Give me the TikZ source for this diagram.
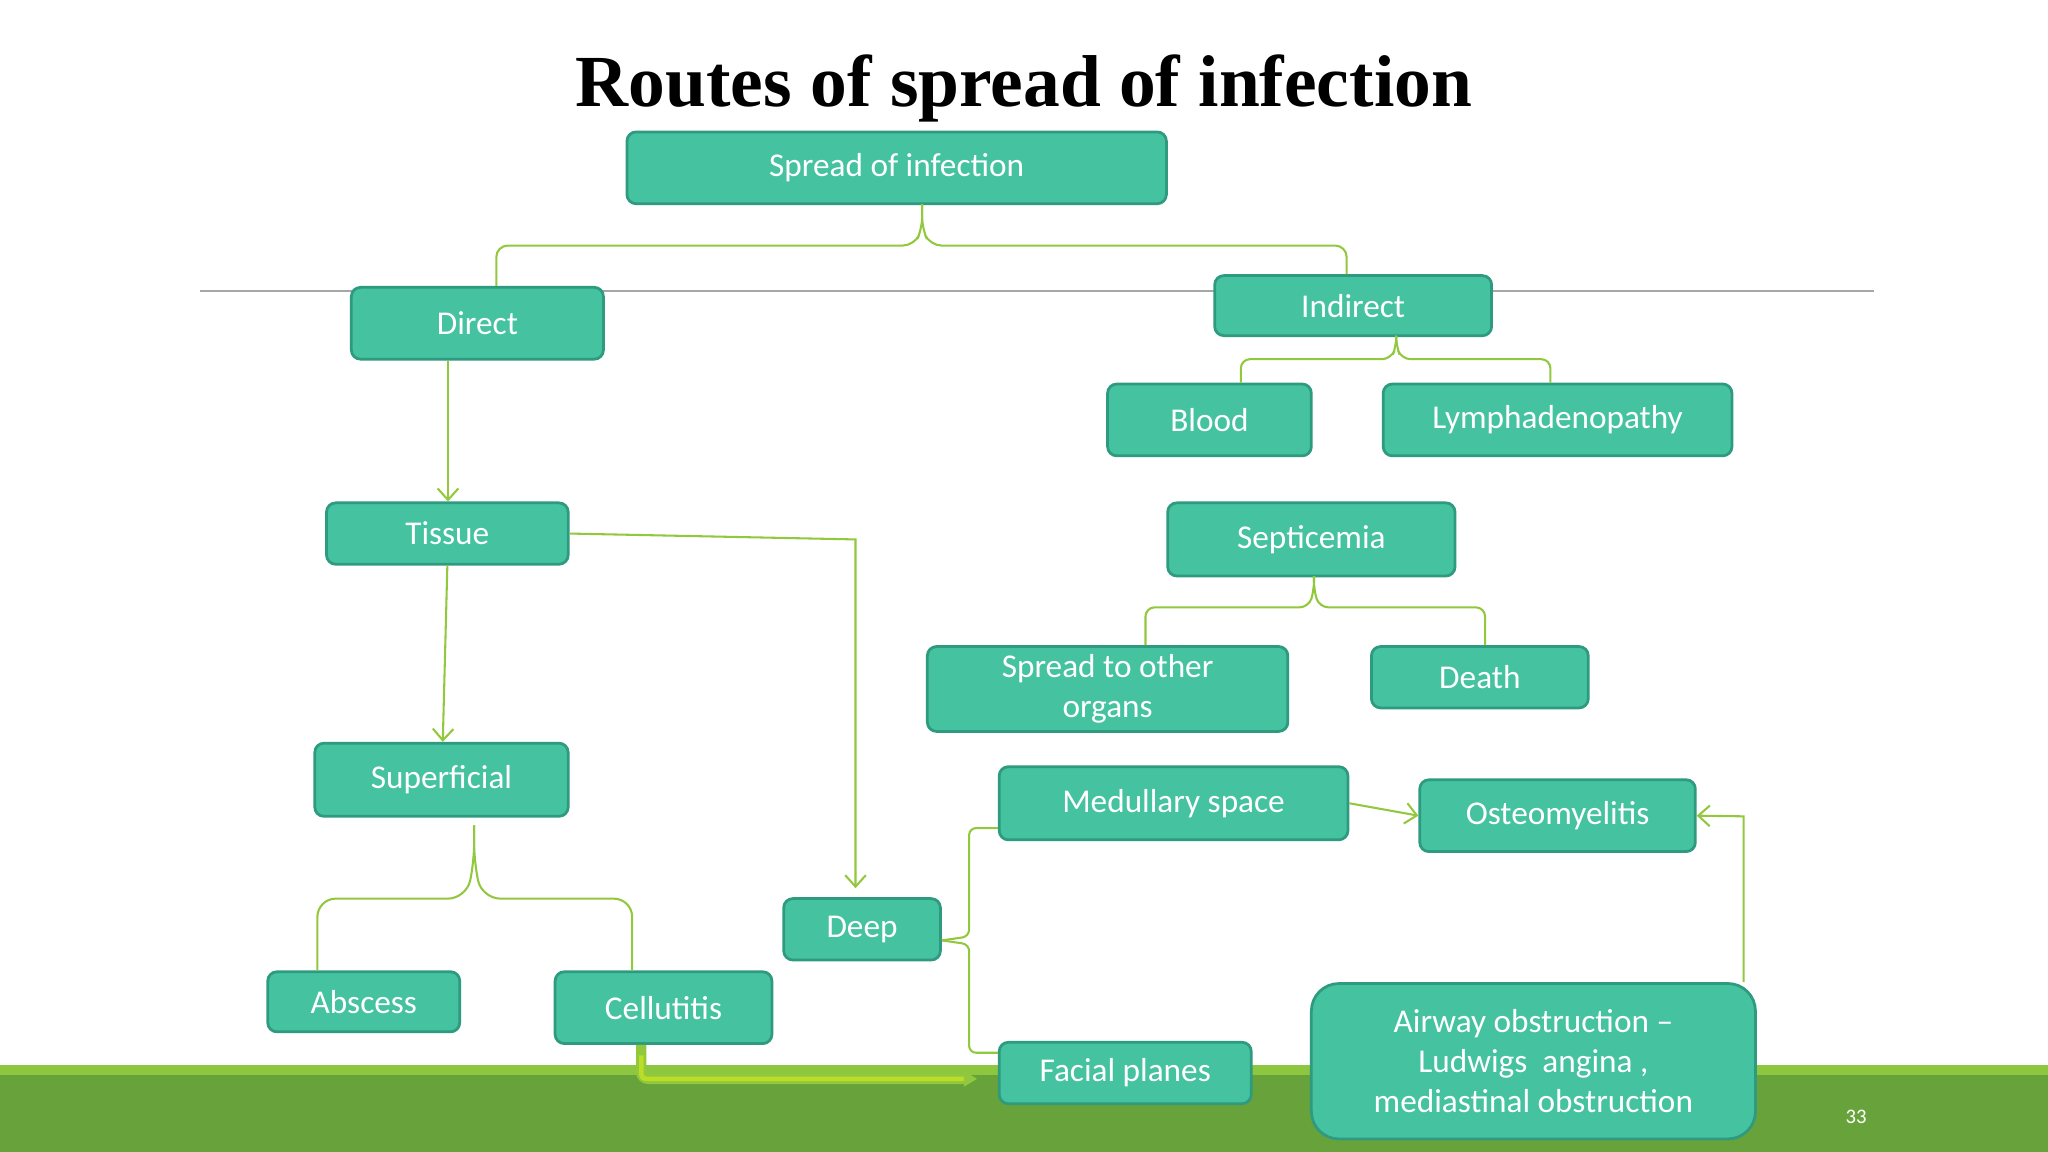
\documentclass[tikz,border=0pt]{standalone}
\usepackage{fontspec}
\setmainfont{Carlito}
\newfontfamily\titlefont{Liberation Serif}
\usetikzlibrary{calc,arrows.meta}
\definecolor{boxfill}{HTML}{45C2A0}
\definecolor{boxedge}{HTML}{2E9A80}
\definecolor{conn}{HTML}{92C83E}
\definecolor{barlight}{HTML}{8DC63F}
\definecolor{bardark}{HTML}{67A33A}
\begin{document}
\begin{tikzpicture}[x=0.02cm,y=-0.02cm,
  box/.style={draw=boxedge,line width=1.2pt,fill=boxfill,rounded corners=4pt,text=white,
    font=\fontsize{14.5}{17.5}\selectfont,align=center,inner sep=0pt},
  con/.style={draw=conn,line width=0.9pt},
  arr/.style={con,-{Straight Barb[length=5pt,width=9pt]}}]
\useasboundingbox (0,0) rectangle (1568,882);
\fill[white] (0,0) rectangle (1568,882);
\fill[barlight] (0,815) rectangle (1568,823);
\fill[bardark] (0,823) rectangle (1568,882);
\draw[gray!70,line width=0.7pt] (153,223) -- (1435,223);
\node[font=\titlefont\bfseries\fontsize{32}{36}\selectfont] (title) at (784,68) {Routes of spread of infection};
\node[box,minimum width=413*0.02cm,minimum height=55*0.02cm] (spread) at (686.5,128.5) {Spread of infection};
\node[box,minimum width=193*0.02cm,minimum height=55*0.02cm] (direct) at (365.5,247.5) {Direct};
\node[box,minimum width=212*0.02cm,minimum height=46*0.02cm] (indirect) at (1036,234) {Indirect};
\node[box,minimum width=156*0.02cm,minimum height=55*0.02cm] (blood) at (926,321.5) {Blood};
\node[box,minimum width=267*0.02cm,minimum height=55*0.02cm] (lymph) at (1192.5,321.5) {Lymphadenopathy};
\node[box,minimum width=185*0.02cm,minimum height=47*0.02cm] (tissue) at (342.5,408.5) {Tissue};
\node[box,minimum width=220*0.02cm,minimum height=56*0.02cm] (sept) at (1004,413) {Septicemia};
\node[box,minimum width=276*0.02cm,minimum height=65*0.02cm] (organs) at (848,527.5) {Spread to other\\organs};
\node[box,minimum width=166*0.02cm,minimum height=47*0.02cm] (death) at (1133,518.5) {Death};
\node[box,minimum width=194*0.02cm,minimum height=56*0.02cm] (superf) at (338,597) {Superficial};
\node[box,minimum width=267*0.02cm,minimum height=56*0.02cm] (medul) at (898.5,615) {Medullary space};
\node[box,minimum width=211*0.02cm,minimum height=55*0.02cm] (osteo) at (1192.5,624.5) {Osteomyelitis};
\node[box,minimum width=120*0.02cm,minimum height=47*0.02cm] (deep) at (660,711.5) {Deep};
\node[box,minimum width=147*0.02cm,minimum height=46*0.02cm] (absc) at (278.5,767) {Abscess};
\node[box,minimum width=166*0.02cm,minimum height=55*0.02cm] (cell) at (508,771.5) {Cellutitis};
\node[box,minimum width=193*0.02cm,minimum height=47*0.02cm] (facial) at (861.5,821.5) {Facial planes};
\node[box,rounded corners=12pt,minimum width=340*0.02cm,minimum height=119*0.02cm] (airway) at (1174,812.5) {Airway obstruction --\\Ludwigs\ \ angina ,\\mediastinal obstruction};
\node[text=white,font=\fontsize{9}{10}\selectfont] (pg) at (1421,855) {33};
% brackets
\draw[con,rounded corners=5pt] (direct.north -| 380,0) -- (380,188) -- (700,188) -- (706,175) -- (706,156);
\draw[con,rounded corners=5pt] (706,156) -- (706,175) -- (712,188) -- (1031,188) -- (indirect.north -| 1031,0);
\draw[con,rounded corners=4pt] (blood.north -| 950,0) -- (950,275) -- (1065,275) -- (1069,265) -- (1069,257);
\draw[con,rounded corners=4pt] (1069,257) -- (1069,265) -- (1073,275) -- (1187,275) -- (lymph.north -| 1187,0);
\draw[con,rounded corners=4pt] (organs.north -| 877,0) -- (877,465) -- (1002,465) -- (1006,452) -- (1006,441);
\draw[con,rounded corners=4pt] (1006,441) -- (1006,452) -- (1010,465) -- (1137,465) -- (death.north -| 1137,0);
\draw[con,rounded corners=8pt] (absc.north -| 243,0) -- (243,688) -- (357,688) -- (363,660) -- (363,632);
\draw[con,rounded corners=8pt] (363,632) -- (363,660) -- (369,688) -- (484,688) -- (cell.north -| 484,0);
% arrows
\draw[arr] (direct.south -| 343,0) -- (tissue.north -| 343,0);
\draw[arr] (tissue.south) -- (superf.north -| 339,0);
\draw[arr] (tissue.east) -- (655,413) -- (655,680);
\draw[arr] (medul.east) -- (osteo.west);
\draw[arr] (airway.north -| 1335,0) -- (1335,625) -- (osteo.east);
% deep bracket
\draw[con,rounded corners=3pt] (deep.east |- 0,720) -- (742,717) -- (742,634) -- (medul.west |- 0,634);
\draw[con,rounded corners=3pt] (deep.east |- 0,720) -- (742,723) -- (742,806) -- (facial.west |- 0,806);
% cellulitis to facial
\draw[conn,line width=4.5pt,rounded corners=3pt] (cell.south -| 491,0) -- (491,826) -- (740,826);
\draw[barlight!60!yellow,line width=2pt,rounded corners=2pt] (491,808) -- (491,826) -- (740,826);
\fill[conn] (738,820) -- (748,826) -- (738,832) -- cycle;
\end{tikzpicture}
\end{document}
